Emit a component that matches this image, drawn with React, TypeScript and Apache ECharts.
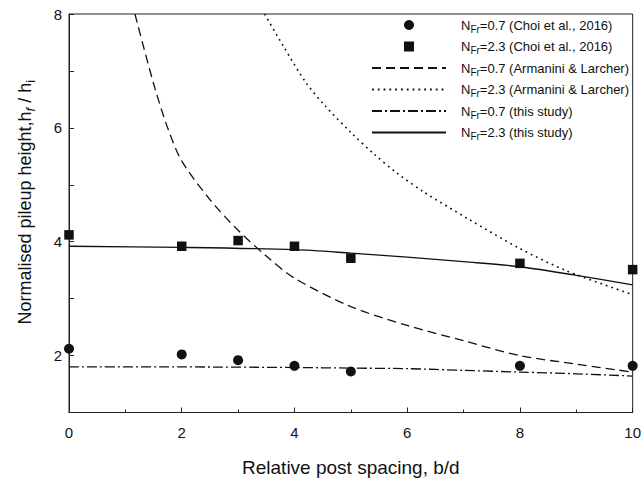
import React, { useEffect, useRef } from "react";
import * as echarts from "echarts";

// Measured data (Choi et al., 2016)
const choiX = [0, 2, 3, 4, 5, 8, 10];
const choiLow = [2.12, 2.02, 1.92, 1.82, 1.72, 1.82, 1.82];
const choiHigh = [4.12, 3.92, 4.02, 3.92, 3.71, 3.62, 3.51];

// Armanini & Larcher curves
const armLowX = [1.17, 1.5, 1.75, 2, 2.5, 3, 3.5, 4, 5, 6, 7, 8, 9, 10];
const armLowY = [8.0, 6.78, 6.0, 5.42, 4.74, 4.2, 3.75, 3.36, 2.86, 2.53, 2.26, 2.0, 1.85, 1.71];
const armHighX = [3.47, 3.8, 4.2, 4.55, 5, 5.4, 5.8, 6.3, 7.1, 8, 8.8, 10];
const armHighY = [8.0, 7.44, 6.8, 6.38, 5.92, 5.55, 5.22, 4.87, 4.39, 3.88, 3.5, 3.07];

// This study
const studyX = [0, 2, 4, 5, 6, 7, 8, 9, 10];
const studyLow = [1.8, 1.8, 1.79, 1.78, 1.77, 1.74, 1.71, 1.68, 1.64];
const studyHigh = [3.92, 3.9, 3.86, 3.8, 3.73, 3.65, 3.56, 3.41, 3.24];

const seriesNames = [
  "NFr=0.7 (Choi et al., 2016)",
  "NFr=2.3 (Choi et al., 2016)",
  "NFr=0.7 (Armanini & Larcher)",
  "NFr=2.3 (Armanini & Larcher)",
  "NFr=0.7 (this study)",
  "NFr=2.3 (this study)",
];

const xTitle = "Relative post spacing, b/d";

const FONT = "Liberation Sans, Arial, sans-serif";
const INK = "#111";

const zip = (xs: number[], ys: number[]) => xs.map((x, i) => [x, ys[i]]);

export default function App() {
  const ref = useRef<HTMLDivElement>(null);

  useEffect(() => {
    if (!ref.current) return;
    const chart = echarts.init(ref.current, undefined, { renderer: "svg" });

    const lineSeries = (name: string, data: number[][], type: any, width: number) => ({
      name,
      type: "line",
      data,
      symbol: "none",
      smooth: 0.3,
      clip: true,
      lineStyle: { color: INK, width, type },
      itemStyle: { color: INK },
    });

    const markerSeries = (name: string, data: number[][], symbol: string, size: number) => ({
      name,
      type: "line",
      data,
      symbol,
      symbolSize: size,
      showSymbol: true,
      lineStyle: { opacity: 0, width: 0 },
      itemStyle: { color: INK },
    });

    const option: any = {
      animation: false,
      backgroundColor: "#fff",
      textStyle: { fontFamily: FONT, color: INK },
      grid: {
        left: 69,
        right: 10,
        top: 14,
        bottom: 62,
        show: true,
        borderColor: "#222",
        borderWidth: 1,
        containLabel: false,
      },
      legend: {
        orient: "vertical",
        left: 366,
        top: 11,
        itemWidth: 74,
        itemHeight: 12.5,
        itemGap: 3.5,
        data: seriesNames.map((name, i) =>
          i < 2 ? { name } : { name, itemStyle: { opacity: 0 } }
        ),
        formatter: (name: string) => {
          const rest = name.slice(3);
          return `{g| }{n|N}{s|Fr}{n|${rest}}`;
        },
        textStyle: {
          fontFamily: FONT,
          color: INK,
          fontSize: 13,
          rich: {
            g: { width: 10, fontSize: 13 },
            n: { fontSize: 13, fontFamily: FONT, color: INK, lineHeight: 14 },
            s: { fontSize: 10, fontFamily: FONT, color: INK, lineHeight: 10, padding: [8, 0, 0, 0] },
          },
        },
      },
      xAxis: {
        type: "value",
        min: 0,
        max: 10,
        interval: 2,
        name: xTitle,
        nameLocation: "middle",
        nameGap: 55,
        nameTextStyle: { fontSize: 19, fontFamily: FONT, color: INK, verticalAlign: "middle" },
        axisLine: { show: true, lineStyle: { color: "#222", width: 1 } },
        axisTick: { show: true, inside: true, length: 5, lineStyle: { color: "#222" } },
        minorTick: { show: true, splitNumber: 2, length: 3, lineStyle: { color: "#222" } },
        splitLine: { show: false },
        minorSplitLine: { show: false },
        axisLabel: { fontSize: 15, fontFamily: FONT, color: INK, margin: 12 },
      },
      yAxis: {
        type: "value",
        min: 1,
        max: 8,
        interval: 1,
        name: "{t|Normalised pileup height,h}{sf|f}{t| / h}{si|i}",
        nameLocation: "middle",
        nameGap: 44,
        nameRotate: 90,
        nameTextStyle: {
          fontSize: 18,
          fontFamily: FONT,
          color: INK,
          verticalAlign: "middle",
          padding: [0, 0, 0, 22],
          rich: {
            t: { fontSize: 18, fontFamily: FONT, color: INK, lineHeight: 20 },
            sf: { fontSize: 13, fontFamily: FONT, fontStyle: "italic", color: INK, lineHeight: 13, padding: [10, 0, 0, 0] },
            si: { fontSize: 13, fontFamily: FONT, color: INK, lineHeight: 13, padding: [10, 0, 0, 0] },
          },
        },
        axisLine: { show: true, lineStyle: { color: "#222", width: 1 } },
        axisTick: { show: true, inside: true, length: 5, lineStyle: { color: "#222" } },
        splitLine: { show: false },
        axisLabel: {
          fontSize: 15,
          fontFamily: FONT,
          color: INK,
          margin: 7,
          formatter: (v: number) => (v % 2 === 0 ? String(v) : ""),
        },
      },
      series: [
        markerSeries(seriesNames[0], zip(choiX, choiLow), "circle", 10),
        markerSeries(seriesNames[1], zip(choiX, choiHigh), "rect", 9.5),
        lineSeries(seriesNames[2], zip(armLowX, armLowY), [9, 5], 1.3),
        lineSeries(seriesNames[3], zip(armHighX, armHighY), [1.8, 4], 1.6),
        lineSeries(seriesNames[4], zip(studyX, studyLow), [10, 3, 2, 3], 1.3),
        lineSeries(seriesNames[5], zip(studyX, studyHigh), "solid", 1.3),
      ],
    };

    chart.setOption(option);
    return () => chart.dispose();
  }, []);

  return (
    <div
      ref={ref}
      style={{ position: "absolute", left: 0, top: 0, width: 644, height: 482 }}
    />
  );
}
